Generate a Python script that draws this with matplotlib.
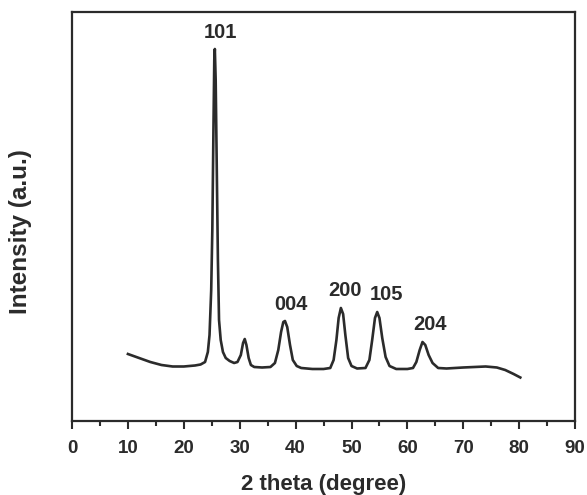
import numpy as np
import matplotlib.pyplot as plt


plt.rcParams['font.family'] = ['Liberation Sans', 'DejaVu Sans']
plt.rcParams['font.weight'] = 'bold'

# 2 theta (degree) and intensity (a.u.)
two_theta = [10.0, 12.0, 14.0, 16.0, 18.0, 20.0, 22.0, 23.0, 23.8, 24.3,
             24.6, 24.9, 25.1, 25.3, 25.45, 25.55, 25.7, 25.9, 26.1, 26.3,
             26.6, 27.0, 27.5, 28.2, 29.0, 29.6, 30.2, 30.6, 30.9, 31.2,
             31.6, 32.0, 32.6, 34.0, 35.5, 36.3, 36.9, 37.4, 37.8, 38.1,
             38.5, 39.0, 39.5, 40.2, 41.0, 43.0, 45.0, 46.2, 46.8, 47.3,
             47.7, 48.1, 48.5, 48.9, 49.4, 50.0, 51.0, 52.5, 53.2, 53.7,
             54.2, 54.6, 55.0, 55.5, 56.1, 56.8, 58.0, 60.0, 61.0, 61.6,
             62.2, 62.7, 63.2, 63.8, 64.5, 65.5, 67.0, 70.0, 72.0, 74.0,
             76.0, 77.5, 79.0, 80.2]
intensity = [67, 63, 59, 56, 54.5, 54.5, 55.5, 56.5, 59, 69,
             86, 131, 191, 291, 361, 372, 341, 251, 161, 101,
             81, 69, 63, 60, 58, 59, 66, 78, 82, 76,
             63, 56, 54, 53.5, 54, 58, 71, 89, 99, 100,
             94, 76, 61, 55, 53, 52, 52, 53, 61, 81,
             103, 113, 107, 86, 63, 55, 52.5, 53, 61, 81,
             103, 109, 103, 83, 64, 55, 52, 52, 53, 59,
             71, 79, 76, 66, 58, 53, 52.5, 53.5, 54, 54.5,
             53.5, 51, 47, 43.5]

# peak labels (hkl) and where they sit
peak_labels = ['101', '004', '200', '105', '204']
label_x = [26.5, 39.1, 48.8, 56.2, 64.1]
label_y = [388, 116, 130, 126, 96]

dark = '#2b2b2b'

fig = plt.figure(figsize=(5.87, 4.95), dpi=100)
ax = fig.add_axes([0.1227, 0.1495, 0.857, 0.8263])
ax.plot(two_theta, intensity, color=dark, lw=1.9, solid_joinstyle='round')
for lab, x, y in zip(peak_labels, label_x, label_y):
    ax.text(x, y, lab, ha='center', va='center', fontsize=14.5,
            fontweight='bold', color=dark)

ax.set_xlim(0, 90)
ax.set_ylim(0, 409)
ax.set_xticks(np.arange(0, 91, 10))
ax.set_xticks(np.arange(5, 90, 10), minor=True)
ax.set_yticks([])
ax.tick_params(axis='x', which='major', direction='out', length=6, width=1.5,
               colors=dark, labelsize=13.5, pad=8)
ax.tick_params(axis='x', which='minor', direction='out', length=3.5, width=1.5,
               colors=dark)
for s in ax.spines.values():
    s.set_linewidth(1.6)
    s.set_color(dark)
ax.set_xlabel('2 theta (degree)', fontsize=16, fontweight='bold', color=dark,
              labelpad=12)
ax.set_ylabel('Intensity (a.u.)', fontsize=17.5, fontweight='bold', color=dark)
ax.yaxis.set_label_coords(-0.08, 0.462)

fig.savefig('out.png', dpi=100)
